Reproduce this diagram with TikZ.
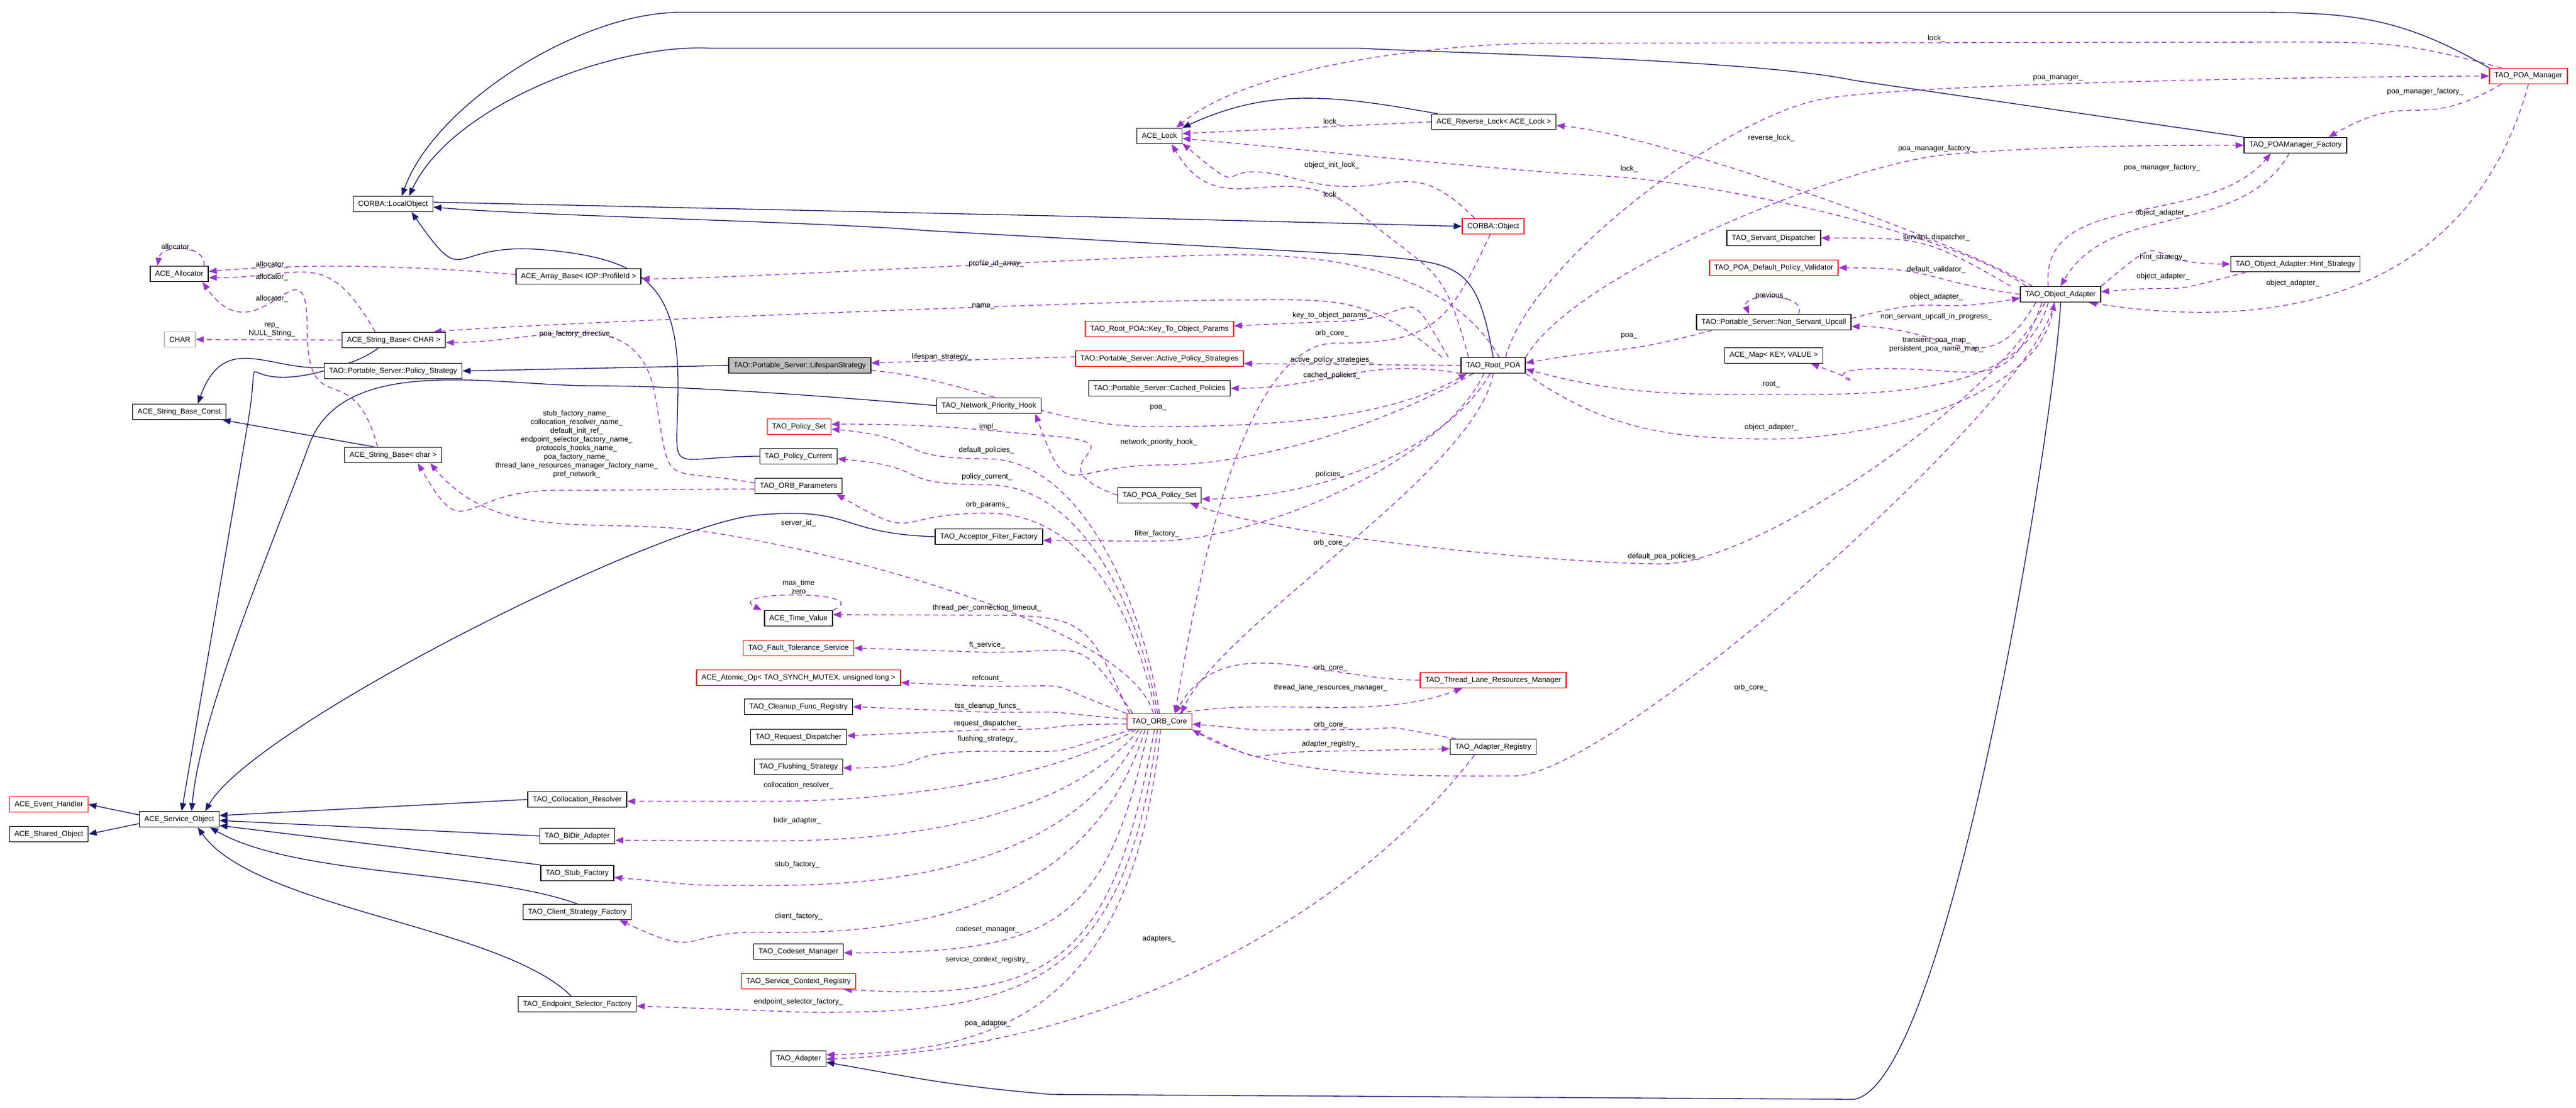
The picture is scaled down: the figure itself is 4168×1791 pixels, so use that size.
\documentclass[tikz,border=0pt]{standalone}
\usepackage{fontspec}
\setmainfont{Liberation Sans}
\usetikzlibrary{arrows.meta}
\definecolor{inhc}{RGB}{25,25,112}
\definecolor{usec}{RGB}{154,50,205}
\definecolor{grayb}{RGB}{191,191,191}
\pgfdeclarelayer{bg}
\pgfsetlayers{bg,main}
\newdimen\uu \uu=0.25pt
\begin{document}
\begin{tikzpicture}[x=0.25pt,y=0.25pt,
  box/.style={draw=black,line width=0.35pt,minimum height=6.25pt,inner xsep=2pt,inner ysep=0.5pt,font=\fontsize{3}{3.5}\selectfont,fill=white},
  rbox/.style={box,draw=red},
  inh/.style={draw=inhc,line width=0.33pt,distance=40pt,-{Triangle[length=3.25pt,width=2.5pt]}},
  use/.style={draw=usec,line width=0.33pt,distance=40pt,dash pattern=on 2pt off 1.5pt,-{Triangle[length=3.25pt,width=2.5pt]}},
  lab/.style={font=\fontsize{3}{3.5}\selectfont,align=center,inner sep=0.25pt}]
\useasboundingbox (0,0) rectangle (4168,-1791);
% nodes
\node[box] (alock) at (1876,-220) {ACE\_Lock};
\node[box] (rlock) at (2417,-197) {ACE\_Reverse\_Lock< ACE\_Lock >};
\node[rbox] (poam) at (4091,-123) {TAO\_POA\_Manager};
\node[box] (pmf) at (3714,-235) {TAO\_POAManager\_Factory};
\node[box] (lo) at (636,-330) {CORBA::LocalObject};
\node[rbox] (cobj) at (2416,-366) {CORBA::Object};
\node[box] (alloc) at (290,-443) {ACE\_Allocator};
\node[box] (arrb) at (936,-447) {ACE\_Array\_Base< IOP::ProfileId >};
\node[box] (sd) at (2870,-385) {TAO\_Servant\_Dispatcher};
\node[rbox] (val) at (2870,-433) {TAO\_POA\_Default\_Policy\_Validator};
\node[box] (oa) at (3334,-476) {TAO\_Object\_Adapter};
\node[box] (hint) at (3714,-427) {TAO\_Object\_Adapter::Hint\_Strategy};
\node[box] (nsu) at (2870,-521) {TAO::Portable\_Server::Non\_Servant\_Upcall};
\node[box] (amap) at (2870,-575) {ACE\_Map< KEY, VALUE >};
\node[rbox] (ktop) at (1876,-532) {TAO\_Root\_POA::Key\_To\_Object\_Params};
\node[rbox] (aps) at (1876,-580) {TAO::Portable\_Server::Active\_Policy\_Strategies};
\node[box] (cpol) at (1876,-628) {TAO::Portable\_Server::Cached\_Policies};
\node[box] (rpoa) at (2416,-591) {TAO\_Root\_POA};
\node[box,draw=grayb] (chr) at (291,-549) {CHAR};
\node[box] (sbC) at (637,-550) {ACE\_String\_Base< CHAR >};
\node[box] (pstr) at (636,-600) {TAO::Portable\_Server::Policy\_Strategy};
\node[box,fill=grayb] (life) at (1294,-591) {TAO::Portable\_Server::LifespanStrategy};
\node[box] (sbk) at (290,-666) {ACE\_String\_Base\_Const};
\node[box] (nph) at (1600,-656) {TAO\_Network\_Priority\_Hook};
\node[rbox] (pset) at (1293,-690) {TAO\_Policy\_Set};
\node[box] (pcur) at (1292,-738) {TAO\_Policy\_Current};
\node[box] (sbc) at (636,-736) {ACE\_String\_Base< char >};
\node[box] (orbp) at (1292,-786) {TAO\_ORB\_Parameters};
\node[box] (ppset) at (1876,-801) {TAO\_POA\_Policy\_Set};
\node[box] (aff) at (1600,-868) {TAO\_Acceptor\_Filter\_Factory};
\node[box] (tv) at (1292,-1000) {ACE\_Time\_Value};
\node[rbox] (fts) at (1292,-1048) {TAO\_Fault\_Tolerance\_Service};
\node[rbox] (atom) at (1292,-1096) {ACE\_Atomic\_Op< TAO\_SYNCH\_MUTEX, unsigned long >};
\node[box] (cfr) at (1292,-1143) {TAO\_Cleanup\_Func\_Registry};
\node[box] (rd) at (1292,-1192) {TAO\_Request\_Dispatcher};
\node[box] (fls) at (1292,-1240) {TAO\_Flushing\_Strategy};
\node[rbox] (orb) at (1876,-1167) {TAO\_ORB\_Core};
\node[rbox] (tlrm) at (2416,-1100) {TAO\_Thread\_Lane\_Resources\_Manager};
\node[box] (areg) at (2416,-1208) {TAO\_Adapter\_Registry};
\node[rbox] (aeh) at (79,-1301) {ACE\_Event\_Handler};
\node[box] (ashr) at (79,-1349) {ACE\_Shared\_Object};
\node[box] (aso) at (290,-1325) {ACE\_Service\_Object};
\node[box] (colr) at (934,-1293) {TAO\_Collocation\_Resolver};
\node[box] (bidir) at (934,-1352) {TAO\_BiDir\_Adapter};
\node[box] (stub) at (934,-1412) {TAO\_Stub\_Factory};
\node[box] (csf) at (934,-1475) {TAO\_Client\_Strategy\_Factory};
\node[box] (eps) at (934,-1624) {TAO\_Endpoint\_Selector\_Factory};
\node[box] (csm) at (1292,-1539) {TAO\_Codeset\_Manager};
\node[rbox] (scr) at (1292,-1587) {TAO\_Service\_Context\_Registry};
\node[box] (tad) at (1292,-1712) {TAO\_Adapter};
\begin{pgfonlayer}{bg}
\fill[white] (0,0) rectangle (4168,-1791);
% inheritance
\draw[inh] (poam.north west) to[out=150,in=0] (3650,-20) -- (1100,-20) to[out=180,in=70] ([xshift=14\uu]lo.north);
\draw[inh] (pmf.north west) -- (3000,-130) to[out=168,in=-3] (2200,-78) -- (1150,-78) to[out=177,in=65] ([xshift=26\uu]lo.north);
\draw[inh] ([yshift=3\uu]lo.east) -- (1700,-349) -- (cobj.west);
\draw[inh] (rpoa.north) to[out=100,in=-5] (2200,-412) -- (1500,-373) to[out=175,in=-5] ([yshift=-5\uu]lo.east);
\draw[inh] (pcur.west) to[out=180,in=-90] (1097,-620) to[out=90,in=-5] (880,-404) to[out=175,in=-55] ([xshift=30\uu]lo.south);
\draw[inh] ([xshift=10\uu]rlock.north west) to[out=170,in=25] (alock.north east);
\draw[inh] (life.west) -- (pstr.east);
\draw[inh] ([xshift=-25\uu]sbC.south) to[out=215,in=70] ([xshift=30\uu]sbk.north);
\draw[inh] ([xshift=-30\uu]sbc.north) -- ([xshift=70\uu]sbk.south);
\draw[inh] (pstr.west) to[out=195,in=80] (400,-690) -- ([xshift=4\uu]aso.north);
\draw[inh] (nph.west) to[out=175,in=0] (960,-624) to[out=180,in=70] (500,-720) to[out=-110,in=85] ([xshift=20\uu]aso.north);
\draw[inh] (aff.west) to[out=178,in=5] (1225,-833) to[out=185,in=60] ([xshift=42\uu]aso.north);
\draw[inh] ([yshift=7\uu]aso.west) -- (aeh.east);
\draw[inh] ([yshift=-7\uu]aso.west) -- (ashr.east);
\draw[inh] (colr.west) -- ([yshift=6\uu]aso.east);
\draw[inh] (bidir.west) -- ([yshift=-2\uu]aso.east);
\draw[inh] (stub.north west) -- ([yshift=-10\uu]aso.east);
\draw[inh] (csf.north) to[out=160,in=-30] ([xshift=50\uu]aso.south);
\draw[inh] ([xshift=-10\uu]eps.north) to[out=135,in=-55] ([xshift=30\uu]aso.south);
\draw[inh] (oa.south) to[out=-92,in=10] (3000,-1778) -- (1700,-1770) to[out=175,in=-10] ([yshift=-6\uu]tad.east);
% usage, top right
\draw[use] ([xshift=20\uu]poam.north west) to[out=165,in=0] (3700,-68) -- (2500,-70) to[out=180,in=40] ([xshift=-10\uu]alock.north east);
\node[lab] (l1) at (3133,-62) {lock\_};
\draw[use] ([xshift=20\uu]rpoa.north) to[out=75,in=190] (2950,-160) to[out=10,in=180] (poam.west);
\node[lab] (l2) at (3330,-127) {poa\_manager\_};
\draw[use] (rpoa.north east) to[out=60,in=185] (3150,-250) to[out=5,in=180] (pmf.west);
\node[lab] (l3) at (3133,-240) {poa\_manager\_factory\_};
\draw[use] ([xshift=20\uu]poam.south west) to[out=-150,in=30] ([xshift=-30\uu]pmf.north east);
\node[lab] (l4) at (3924,-148) {poa\_manager\_factory\_};
\draw[use] ([xshift=-20\uu]oa.north) to[out=95,in=-130] ([xshift=-40\uu]pmf.south);
\node[lab] (l5) at (3498,-271) {poa\_manager\_factory\_};
\draw[use] ([xshift=-10\uu]pmf.south) to[out=-120,in=60] (oa.north);
\node[lab] (l6) at (3498,-344) {object\_adapter\_};
\draw[use] (oa.north east) to[out=40,in=180] (hint.west);
\node[lab] (l7) at (3500,-416) {hint\_strategy\_};
\draw[use] ([xshift=-80\uu]hint.south) to[out=195,in=5] ([yshift=4\uu]oa.east);
\node[lab] (l8) at (3500,-447) {object\_adapter\_};
\draw[use] (poam.south) .. controls (4000,-470) and (3700,-540) .. ([xshift=-20\uu]oa.south east);
\node[lab] (l9) at (3710,-458) {object\_adapter\_};
\draw[use] ([xshift=20\uu]oa.north west) to[out=150,in=-5] ([yshift=-6\uu]rlock.east);
\node[lab] (l10) at (2866,-223) {reverse\_lock\_};
\draw[use] ([xshift=10\uu]oa.north west) to[out=145,in=-3] (2600,-285) to[out=177,in=-5] ([yshift=-4\uu]alock.east);
\node[lab] (l11) at (2636,-273) {lock\_};
\draw[use] (rlock.west) -- ([yshift=4\uu]alock.east);
\node[lab] (l12) at (2155,-197) {lock\_};
\draw[use] ([xshift=-30\uu]cobj.north) to[out=135,in=-15] (2100,-290) to[out=165,in=-40] ([yshift=-12\uu]alock.east);
\node[lab] (l13) at (2155,-267) {object\_init\_lock\_};
\draw[use] ([xshift=-40\uu]rpoa.north) to[out=105,in=-40] (2200,-345) to[out=140,in=-60] ([xshift=20\uu]alock.south);
\node[lab] (l14) at (2155,-315) {lock\_};
\draw[use] ([xshift=-15\uu]oa.north west) to[out=150,in=0] (sd.east);
\node[lab] (l15) at (3133,-384) {servant\_dispatcher\_};
\draw[use] (oa.west) to[out=172,in=0] (val.east);
\node[lab] (l16) at (3133,-436) {default\_validator\_};
\draw[use] ([xshift=40\uu]nsu.north) .. controls +(15,35) and +(-15,35) .. ([xshift=-40\uu]nsu.north);
\node[lab] (l17) at (2866,-478) {previous\_};
\draw[use] ([yshift=6\uu]nsu.east) to[out=15,in=190] ([yshift=-6\uu]oa.west);
\node[lab] (l18) at (3133,-480) {object\_adapter\_};
\draw[use] ([xshift=-40\uu]oa.south) to[out=-120,in=0] ([yshift=-7\uu]nsu.east);
\node[lab] (l19) at (3133,-512) {non\_servant\_upcall\_in\_progress\_};
\draw[use] ([xshift=-100\uu]nsu.south) to[out=195,in=10] ([yshift=4\uu]rpoa.east);
\node[lab] (l20) at (2636,-543) {poa\_};
\draw[use] ([xshift=-30\uu]oa.south) to[out=-110,in=0] (3050,-596) to[out=180,in=-20] ([xshift=-20\uu]amap.south east);
\node[lab] (l21) at (3133,-557) {transient\_poa\_map\_\\persistent\_poa\_name\_map\_};
\draw[use] ([xshift=-20\uu]oa.south) to[out=-105,in=0] (2870,-638) to[out=180,in=-15] ([yshift=-6\uu]rpoa.east);
\node[lab] (l22) at (2866,-622) {root\_};
\draw[use] (rpoa.south east) to[out=-35,in=180] (2866,-710) to[out=0,in=-100] ([xshift=-10\uu]oa.south);
\node[lab] (l23) at (2866,-691) {object\_adapter\_};
\draw[use] ([xshift=-10\uu]oa.south) to[out=-100,in=0] (2450,-1255) to[out=180,in=-30] (orb.south east);
\node[lab] (l24) at (2833,-1112) {orb\_core\_};
\draw[use] ([xshift=-25\uu]oa.south) to[out=-115,in=0] (2690,-912) to[out=180,in=-20] ([xshift=50\uu]ppset.south);
\node[lab] (l25) at (2692,-900) {default\_poa\_policies\_};
% Root POA outgoing
\draw[use] ([xshift=-20\uu]rpoa.north west) to[out=120,in=0] (2150,-520) -- ([yshift=5\uu]ktop.east);
\node[lab] (l26) at (2155,-510) {key\_to\_object\_params\_};
\draw[use] (rpoa.west) -- ([yshift=-8\uu]aps.east);
\node[lab] (l27) at (2155,-582) {active\_policy\_strategies\_};
\draw[use] (rpoa.south west) to[out=170,in=0] (cpol.east);
\node[lab] (l28) at (2155,-607) {cached\_policies\_};
\draw[use] ([yshift=3\uu]aps.west) -- ([yshift=4\uu]life.east);
\node[lab] (l29) at (1524,-577) {lifespan\_strategy\_};
\draw[use] ([yshift=-8\uu]life.east) to[out=-5,in=180] (1860,-690) to[out=0,in=-150] ([xshift=10\uu]rpoa.south west);
\node[lab] (l30) at (1874,-659) {poa\_};
\draw[use] ([xshift=20\uu]rpoa.south west) to[out=-150,in=0] (1880,-752) to[out=180,in=-70] ([xshift=-10\uu]nph.south east);
\node[lab] (l31) at (1875,-715) {network\_priority\_hook\_};
\draw[use] ([xshift=-5\uu]rpoa.south) to[out=-120,in=0] ([yshift=-6\uu]ppset.east);
\node[lab] (l32) at (2152,-767) {policies\_};
\draw[use] ([xshift=-15\uu]rpoa.south) to[out=-115,in=0] (1870,-875) to[out=180,in=0] ([yshift=-6\uu]aff.east);
\node[lab] (l33) at (1872,-863) {filter\_factory\_};
\draw[use] (rpoa.south) to[out=-100,in=65] ([xshift=35\uu]orb.north);
\node[lab] (l34) at (2152,-878) {orb\_core\_};
\draw[use] ([xshift=10\uu]rpoa.north) to[out=120,in=0] (2000,-412) to[out=180,in=0] ([yshift=-4\uu]arrb.east);
\node[lab] (l35) at (1612,-426) {profile\_id\_array\_};
\draw[use] ([xshift=-30\uu]rpoa.north west) to[out=140,in=0] (2000,-485) to[out=180,in=5] ([xshift=-20\uu]sbC.north east);
\node[lab] (l36) at (1591,-495) {name\_};
\draw[use] ([xshift=-5\uu]cobj.south) to[out=-115,in=0] (2160,-555) to[out=180,in=80] ([xshift=25\uu]orb.north);
\node[lab] (l37) at (2155,-539) {orb\_core\_};
% ORB core outgoing
\draw[use] ([xshift=5\uu]orb.north west) to[out=115,in=0] (1600,-995) -- ([yshift=6\uu]tv.east);
\node[lab] (l38) at (1597,-983) {thread\_per\_connection\_timeout\_};
\draw[use] (tv.north east) .. controls (1420,-955) and (1170,-955) .. ([xshift=-4\uu]tv.north west);
\node[lab] (l39) at (1292,-949) {max\_time\\zero};
\draw[use] ([xshift=10\uu]orb.north west) to[out=125,in=0] (1600,-1055) -- (fts.east);
\node[lab] (l40) at (1597,-1043) {ft\_service\_};
\draw[use] (orb.north west) to[out=160,in=0] (1600,-1110) -- ([yshift=-8\uu]atom.east);
\node[lab] (l41) at (1598,-1097) {refcount\_};
\draw[use] ([yshift=4\uu]orb.west) to[out=175,in=0] (1600,-1152) -- (cfr.east);
\node[lab] (l42) at (1598,-1142) {tss\_cleanup\_funcs\_};
\draw[use] ([yshift=-4\uu]orb.west) to[out=180,in=0] (1600,-1180) -- ([yshift=2\uu]rd.east);
\node[lab] (l43) at (1598,-1170) {request\_dispatcher\_};
\draw[use] ([xshift=10\uu]orb.south west) to[out=195,in=0] (1600,-1215) to[out=180,in=0] ([yshift=-2\uu]fls.east);
\node[lab] (l44) at (1598,-1195) {flushing\_strategy\_};
\draw[use] ([xshift=15\uu]orb.south west) .. controls (1700,-1260) and (1450,-1296) .. (1250,-1296) -- ([yshift=-3\uu]colr.east);
\node[lab] (l45) at (1292,-1270) {collocation\_resolver\_};
\draw[use] ([xshift=20\uu]orb.south west) .. controls (1720,-1330) and (1450,-1360) .. (1250,-1360) -- ([yshift=-7\uu]bidir.east);
\node[lab] (l46) at (1290,-1327) {bidir\_adapter\_};
\draw[use] ([xshift=25\uu]orb.south west) .. controls (1740,-1400) and (1450,-1432) .. (1250,-1432) to[out=180,in=-5] ([yshift=-7\uu]stub.east);
\node[lab] (l47) at (1290,-1398) {stub\_factory\_};
\draw[use] ([xshift=30\uu]orb.south west) .. controls (1760,-1480) and (1450,-1510) .. (1250,-1508) to[out=178,in=-25] ([xshift=-20\uu]csf.south east);
\node[lab] (l48) at (1292,-1482) {client\_factory\_};
\draw[use] ([xshift=35\uu]orb.south west) .. controls (1790,-1500) and (1700,-1541) .. ([yshift=-2\uu]csm.east);
\node[lab] (l49) at (1598,-1503) {codeset\_manager\_};
\draw[use] ([xshift=45\uu]orb.south west) .. controls (1800,-1560) and (1700,-1620) .. ([xshift=-20\uu]scr.south east);
\node[lab] (l50) at (1598,-1552) {service\_context\_registry\_};
\draw[use] ([xshift=50\uu]orb.south west) .. controls (1820,-1600) and (1650,-1640) .. (1300,-1637) -- ([yshift=-3\uu]eps.east);
\node[lab] (l51) at (1292,-1620) {endpoint\_selector\_factory\_};
\draw[use] ([xshift=55\uu]orb.south west) .. controls (1830,-1650) and (1600,-1700) .. ([yshift=6\uu]tad.east);
\node[lab] (l52) at (1598,-1655) {poa\_adapter\_};
\draw[use] ([xshift=40\uu]areg.south west) .. controls (2250,-1400) and (1900,-1690) .. ([yshift=-1\uu]tad.east);
\node[lab] (l53) at (1875,-1518) {adapters\_};
\draw[use] ([xshift=30\uu]orb.north) to[out=10,in=-160] ([xshift=-50\uu]tlrm.south);
\node[lab] (l54) at (2153,-1112) {thread\_lane\_resources\_manager\_};
\draw[use] (tlrm.west) to[out=180,in=60] ([xshift=25\uu]orb.north);
\node[lab] (l55) at (2153,-1080) {orb\_core\_};
\draw[use] (orb.south east) to[out=-25,in=180] (2150,-1215) -- ([yshift=-3\uu]areg.west);
\node[lab] (l56) at (2153,-1203) {adapter\_registry\_};
\draw[use] ([xshift=10\uu]areg.north west) to[out=170,in=0] (2150,-1180) to[out=180,in=-5] ([yshift=-4\uu]orb.east);
\node[lab] (l57) at (2153,-1172) {orb\_core\_};
\draw[use] ([xshift=-10\uu]orb.north) to[out=105,in=-5] (1100,-855) to[out=175,in=-50] ([xshift=60\uu]sbc.south);
\node[lab] (l58) at (1292,-846) {server\_id\_};
\draw[use] ([xshift=-6\uu]orb.north) to[out=102,in=0] (1598,-830) to[out=180,in=-30] ([xshift=-10\uu]orbp.south east);
\node[lab] (l59) at (1598,-816) {orb\_params\_};
\draw[use] ([xshift=-3\uu]orb.north) to[out=100,in=0] (1597,-784) to[out=180,in=-5] ([yshift=-4\uu]pcur.east);
\node[lab] (l60) at (1597,-771) {policy\_current\_};
\draw[use] (orb.north) to[out=98,in=0] (1597,-742) to[out=180,in=-5] ([yshift=-4\uu]pset.east);
\node[lab] (l61) at (1596,-728) {default\_policies\_};
\draw[use] (ppset.west) to[out=160,in=-5] (1700,-705) to[out=175,in=0] ([yshift=4\uu]pset.east);
\node[lab] (l62) at (1599,-690) {impl\_};
% left region
\draw[use] ([yshift=5\uu]orbp.west) to[out=170,in=-80] (1060,-640) to[out=100,in=0] ([yshift=-4\uu]sbC.east);
\node[lab] (l63) at (933,-540) {poa\_factory\_directive\_};
\draw[use] ([yshift=-5\uu]orbp.west) to[out=180,in=0] (900,-793) to[out=180,in=-60] ([xshift=40\uu]sbc.south);
\node[lab] (l64) at (933,-718) {stub\_factory\_name\_\\collocation\_resolver\_name\_\\default\_init\_ref\_\\endpoint\_selector\_factory\_name\_\\protocols\_hooks\_name\_\\poa\_factory\_name\_\\thread\_lane\_resources\_manager\_factory\_name\_\\pref\_network\_};
\draw[use] ([yshift=3\uu]arrb.west) to[out=175,in=5] ([yshift=4\uu]alloc.east);
\node[lab] (l65) at (440,-428) {allocator\_};
\draw[use] ([xshift=-30\uu]sbC.north) to[out=120,in=0] ([yshift=-6\uu]alloc.east);
\node[lab] (l66) at (440,-448) {allocator\_};
\draw[use] ([xshift=-25\uu]sbc.north) to[out=105,in=-90] (497,-530) to[out=90,in=-55] ([xshift=-10\uu]alloc.south east);
\node[lab] (l67) at (440,-483) {allocator\_};
\draw[use] ([xshift=40\uu]alloc.north) .. controls +(5,35) and +(5,35) .. ([xshift=-35\uu]alloc.north);
\node[lab] (l68) at (287,-400) {allocator\_};
\draw[use] (sbC.west) -- (chr.east);
\node[lab] (l69) at (440,-534) {rep\_\\NULL\_String\_};
\end{pgfonlayer}
\end{tikzpicture}
\end{document}
